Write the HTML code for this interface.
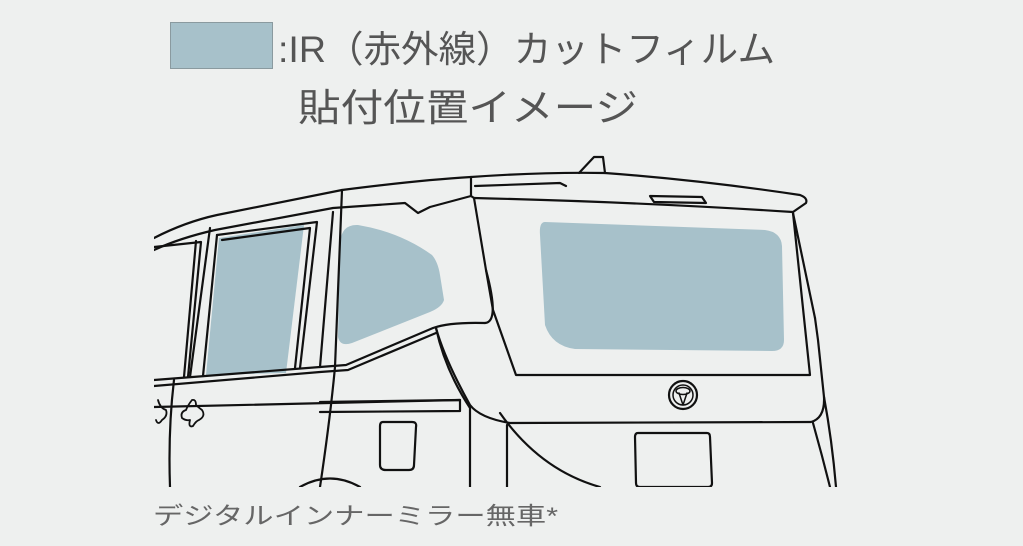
<!DOCTYPE html>
<html><head><meta charset="utf-8"><style>
html,body{margin:0;padding:0;background:#eef0ef;}
svg{display:block}
</style></head><body>
<svg width="1023" height="546" viewBox="0 0 1023 546" xmlns="http://www.w3.org/2000/svg">
<rect width="1023" height="546" fill="#eef0ef"/>
<rect x="170.5" y="22.5" width="102" height="46" fill="#a7c1ca" stroke="#8a9a9f" stroke-width="1"/>
<g font-family="'Liberation Sans','Noto Sans CJK JP',sans-serif" fill="#555">
<text x="278" y="62" font-size="37" textLength="497" lengthAdjust="spacingAndGlyphs">:IR（赤外線）カットフィルム</text>
<text x="298" y="121" font-size="38" textLength="340" lengthAdjust="spacingAndGlyphs">貼付位置イメージ</text>
<text x="153" y="524" font-size="24" fill="#666" textLength="405" lengthAdjust="spacingAndGlyphs">デジタルインナーミラー無車*</text>
</g>
<defs><clipPath id="c"><rect x="154" y="140" width="700" height="347"/></clipPath></defs>
<g clip-path="url(#c)" fill="none" stroke="#111" stroke-width="2.2" stroke-linejoin="round" stroke-linecap="round">
<path d="M545,222 L765,230 Q781,232 782,246 L784,340 Q784,351 772,351 L575,349 Q552,346 545,325 L540,235 Q539,222 545,222 Z" fill="#a7c1ca" stroke="none"/>
<path d="M358,225 Q400,232 432,255 Q438,262 440,275 L444,300 Q442,307 430,312 L352,343 Q340,347 338,337 L340,242 Q342,224 358,225 Z" fill="#a7c1ca" stroke="none"/>
<path d="M219,238 L304,225 L286,373 L206,375 Z" fill="#a7c1ca" stroke="none"/>
<path d="M154,238 Q185,222 217,215 L342,190 Q420,180 471,177 Q540,172 605,173 Q700,180 800,195 Q808,198 806,203 L793,212"/>
<path d="M154,250 Q180,238 215,230 L333,208 L405,203 L418,213 L430,207 L471,196"/>
<path d="M471,177 L471,196 L474,198"/>
<path d="M474,198 Q640,202 793,212"/>
<path d="M475,186 L560,183 L566,186"/>
<path d="M579,173 L594,157 L603,157 L605,173"/>
<path d="M650,196 L702,197 L706,203 L654,202 Z"/>
<path d="M474,198 L486,270 L493,310 L516,375 L810,375 L793,213"/>
<path d="M436,328 Q445,360 470,405 Q480,418 510,423 L811,422 Q825,418 824,397 L818,340 L815,318"/>
<path d="M485,323 Q500,322 486,270"/>
<path d="M793,213 L815,318"/>
<path d="M507,425 L507,487"/><path d="M500,413 Q540,470 600,487"/>
<path d="M813,423 Q822,455 830,487"/><path d="M824,397 Q832,440 836,487"/>
<path d="M638,433 L707,433 Q710,433 710,437 L712,483 Q712,487 708,487 L640,487 Q636,487 636,483 L635,437 Q635,433 638,433 Z"/>
<ellipse cx="683" cy="395" rx="14" ry="14"/>
<ellipse cx="683" cy="395" rx="10" ry="10" stroke-width="1.5"/>
<ellipse cx="683" cy="391" rx="7" ry="3.5" stroke-width="1.5"/>
<path d="M679,393 L683,405 L687,393" stroke-width="1.5"/>
<path d="M342,190 L335,367"/>
<path d="M333,212 L320,367"/>
<path d="M154,380 L320,367 L346,365 L433,328 Q450,322 485,323"/>
<path d="M154,386 L320,372 L348,370 L436,333"/>
<path d="M335,367 Q330,420 320,487"/>
<path d="M436,328 Q445,370 470,408 L470,487"/>
<path d="M217,235 L317,222 L300,368"/>
<path d="M222,240 L310,228 L295,368"/>
<path d="M217,235 L203,376"/>
<path d="M210,228 L190,377"/>
<path d="M154,247 L201,242 L188,377"/>
<path d="M196,241 L184,377"/>
<path d="M154,407 L460,400"/>
<path d="M320,402 L460,400 L460,411 L320,412"/>
<path d="M174,380 Q168,430 170,487"/>
<path d="M383,422 L412,422 Q417,422 416,427 L414,465 Q414,470 409,470 L386,470 Q380,470 380,465 L380,426 Q380,422 383,422 Z"/>
<path d="M192,400 Q188,405 186,410 Q180,412 182,418 Q186,421 190,420 Q188,428 193,426 Q196,421 199,420 Q206,416 202,410 Q198,407 196,405 Q196,399 192,400 Z" stroke-width="1.8"/>
<path d="M158,400 Q160,408 166,410 Q168,416 162,420 Q158,426 156,420" stroke-width="1.8"/>
<path d="M300,487 Q330,470 360,487"/>
</g>
</svg>
</body></html>
